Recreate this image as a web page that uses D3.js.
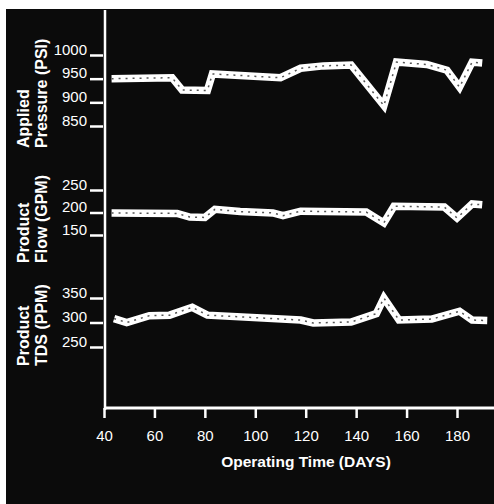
<!DOCTYPE html>
<html>
<head>
<meta charset="utf-8">
<script src="https://cdn.jsdelivr.net/npm/d3@7"></script>
<style>
  html, body { margin: 0; padding: 0; background: #ffffff; }
  svg { display: block; }
  text { font-family: "Liberation Sans", Arial, Helvetica, sans-serif; fill: #ffffff; }
</style>
</head>
<body>
<svg id="chart" width="494" height="504"></svg>
<script>
// ---- data ----
const xTicks = [40, 60, 80, 100, 120, 140, 160, 180];

const pressureTicks = [850, 900, 950, 1000];
const pressureDays  = [43, 67, 71, 81, 83, 110, 118, 127, 138, 151, 156, 168, 176, 181, 186, 190];
const pressureVals  = [950, 952, 926, 925, 960, 952, 972, 977, 979, 893, 985, 980, 968, 932, 985, 983];

const flowTicks = [150, 200, 250];
const flowDays  = [43, 69, 74, 80, 84, 94, 107, 111, 118, 144, 151, 155, 175, 180, 186, 190];
const flowVals  = [199, 198, 190, 189, 207, 202, 199, 193, 203, 201, 177, 214, 212, 188, 219, 217];

const tdsTicks = [250, 300, 350];
const tdsDays  = [44, 49, 58, 66, 75, 81, 118, 123, 138, 148, 151, 157, 170, 181, 186, 192];
const tdsVals  = [308, 300, 314, 315, 331, 315, 305, 299, 301, 318, 350, 305, 307, 323, 305, 304];

const panelTitles = [
  ["Applied", "Pressure (PSI)"],
  ["Product", "Flow (GPM)"],
  ["Product", "TDS (PPM)"]
];
const xTitle = "Operating Time (DAYS)";

// ---- layout ----
const svg = d3.select("#chart");
svg.append("rect").attr("x", 6).attr("y", 9).attr("width", 488).attr("height", 495).attr("fill", "#0b0b0b");

const axisX = 105, axisY = 408;
const x = d3.scaleLinear().domain([40, 180]).range([104, 457]);

const panels = [
  { ticks: pressureTicks, days: pressureDays, vals: pressureVals,
    y: d3.scaleLinear().domain([850, 1000]).range([126, 55]), titleBottom: 148, title: panelTitles[0] },
  { ticks: flowTicks, days: flowDays, vals: flowVals,
    y: d3.scaleLinear().domain([150, 250]).range([235, 190]), titleBottom: 263, title: panelTitles[1] },
  { ticks: tdsTicks, days: tdsDays, vals: tdsVals,
    y: d3.scaleLinear().domain([250, 350]).range([347, 298]), titleBottom: 366, title: panelTitles[2] }
];

// axes lines
svg.append("line").attr("x1", axisX).attr("x2", axisX).attr("y1", 10).attr("y2", axisY + 2)
  .attr("stroke", "#fff").attr("stroke-width", 2.5);
svg.append("line").attr("x1", axisX - 1).attr("x2", 494).attr("y1", axisY).attr("y2", axisY)
  .attr("stroke", "#fff").attr("stroke-width", 3);

// x axis ticks via d3 axis
const xAxis = d3.axisBottom(x).tickValues(xTicks).tickSize(10).tickPadding(18).tickFormat(d3.format("d"));
const gx = svg.append("g").attr("transform", `translate(0,${axisY})`).call(xAxis);
gx.select(".domain").remove();
gx.selectAll(".tick line").attr("stroke", "#fff").attr("stroke-width", 2.5);
gx.selectAll(".tick text").attr("fill", "#fff").style("font-size", "15px").attr("dy", "0.3em");

svg.append("text").attr("x", 306).attr("y", 467).attr("text-anchor", "middle")
  .style("font-size", "15.5px").style("font-weight", "bold").text(xTitle);

const line = d3.line().curve(d3.curveLinear);

panels.forEach(p => {
  // y ticks
  const yAxis = d3.axisLeft(p.y).tickValues(p.ticks).tickSize(13).tickPadding(3).tickFormat(d3.format("d"));
  const gy = svg.append("g").attr("transform", `translate(${axisX - 2},0)`).call(yAxis);
  gy.select(".domain").remove();
  gy.selectAll(".tick line").attr("stroke", "#fff").attr("stroke-width", 2.5);
  gy.selectAll(".tick text").attr("fill", "#fff").style("font-size", "15px").attr("dy", "-0.05em");

  // titles
  p.title.forEach((t, i) => {
    svg.append("text")
      .attr("transform", `translate(${29 + i * 18},${p.titleBottom}) rotate(-90)`)
      .attr("text-anchor", "start")
      .style("font-size", "16px").style("font-weight", "bold")
      .text(t);
  });

  // series
  const pts = p.days.map((d, i) => [x(d), p.y(p.vals[i])]);
  svg.append("path").attr("d", line(pts)).attr("fill", "none")
    .attr("stroke", "#ffffff").attr("stroke-width", 7.5).attr("stroke-linejoin", "miter").attr("stroke-miterlimit", 4);
  svg.append("path").attr("d", line(pts)).attr("fill", "none")
    .attr("stroke", "#555").attr("stroke-width", 1.5).attr("stroke-dasharray", "2,5");
});
</script>
</body>
</html>
